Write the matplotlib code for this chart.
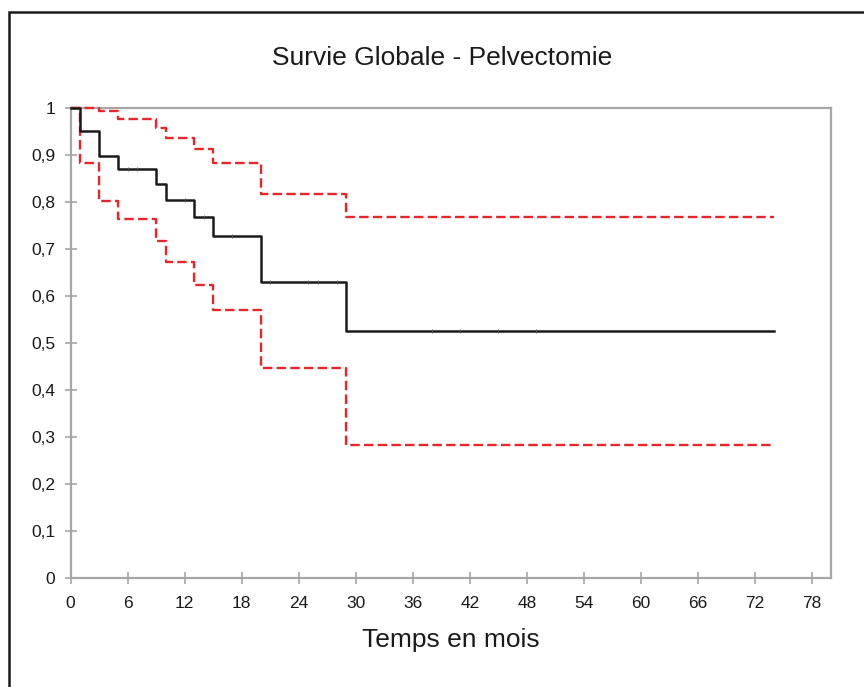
import matplotlib.pyplot as plt
import numpy as np
from matplotlib.patches import Rectangle

plt.rcParams["font.family"] = ["Liberation Sans", "DejaVu Sans"]

# Kaplan-Meier (temps en mois)
temps = [0, 1, 3, 5, 9, 10, 13, 15, 20, 29, 74]
survie = [1.0, 0.950, 0.897, 0.869, 0.837, 0.804, 0.767, 0.727, 0.630, 0.525, 0.525]
ic_haut = [1.0, 1.0, 0.994, 0.977, 0.957, 0.936, 0.913, 0.883, 0.816, 0.768, 0.768]
ic_bas = [1.0, 0.883, 0.802, 0.763, 0.717, 0.672, 0.624, 0.571, 0.446, 0.283, 0.283]
censures = [6, 7, 12, 14, 17, 21, 25, 26, 28, 38, 41, 45, 49]

x_ticks = list(range(0, 79, 6))
y_ticks = [0, 0.1, 0.2, 0.3, 0.4, 0.5, 0.6, 0.7, 0.8, 0.9, 1]
y_labels = ["0", "0,1", "0,2", "0,3", "0,4", "0,5", "0,6", "0,7", "0,8", "0,9", "1"]

GRIS = "#A6A6A6"
ROUGE = "#E8262A"

fig = plt.figure(figsize=(8.64, 6.87), dpi=100)
ax = fig.add_axes([0.0818, 0.1582, 0.9618 - 0.0818, 0.8432 - 0.1582])

for ic in (ic_haut, ic_bas):
    ax.step(temps, ic, where="post", color=ROUGE, lw=1.7, ls=(0, (4, 1.8)),
            zorder=3, clip_on=False)
ax.step(temps, survie, where="post", color="#1a1a1a", lw=1.8, zorder=4,
        clip_on=False)

# marques de censure
idx = np.searchsorted(temps, censures, side="right") - 1
ax.plot(censures, np.array(survie)[idx], ls="none", marker="|", ms=3,
        mew=0.6, color="#555555", zorder=4)

ax.set_xlim(0, 80)
ax.set_ylim(0, 1)
ax.set_xticks(x_ticks)
ax.set_yticks(y_ticks)
ax.set_yticklabels(y_labels)
ax.tick_params(direction="inout", length=8, width=1.2, color=GRIS,
               labelsize=12.5, labelcolor="#1a1a1a")
ax.tick_params(axis="y", pad=7)
ax.tick_params(axis="x", pad=9)
for s in ax.spines.values():
    s.set_color(GRIS)
    s.set_linewidth(1.6)

fig.text(0.512, 0.915, "Survie Globale - Pelvectomie", ha="center", va="center",
         fontsize=19, color="#1a1a1a")
ax.set_xlabel("Temps en mois", fontsize=19, color="#1a1a1a", labelpad=12)

# cadre du graphique
fig.patches.append(Rectangle((9 / 864, -0.2), 1.2, 1.2 - 12 / 687, fill=False,
                             ec="#1a1a1a", lw=1.8, transform=fig.transFigure))

fig.savefig("out.png", dpi=100)
